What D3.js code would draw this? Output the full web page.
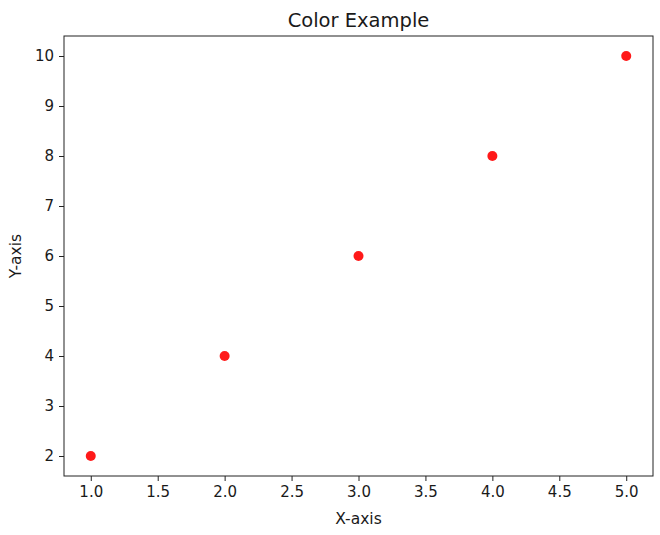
<!DOCTYPE html>
<html>
<head>
<meta charset="utf-8">
<script src="https://cdn.jsdelivr.net/npm/d3@7"></script>
<style>
  body { margin: 0; background: #fff; }
  text { font-family: "DejaVu Sans", sans-serif; fill: #1a1a1a; }
</style>
</head>
<body>
<div id="chart"></div>
<script>
var xValues = [1, 2, 3, 4, 5];
var yValues = [2, 4, 6, 8, 10];
var xTicks = [1.0, 1.5, 2.0, 2.5, 3.0, 3.5, 4.0, 4.5, 5.0];
var yTicks = [2, 3, 4, 5, 6, 7, 8, 9, 10];

var svgWidth = 660, svgHeight = 535;
var margin = { top: 36, right: 7, bottom: 59, left: 64 };
var width = svgWidth - margin.left - margin.right;
var height = svgHeight - margin.top - margin.bottom;

var svg = d3.select("#chart").append("svg")
    .attr("width", svgWidth)
    .attr("height", svgHeight);

var g = svg.append("g")
    .attr("transform", `translate(${margin.left}, ${margin.top})`);

var x = d3.scaleLinear().domain([0.8, 5.2]).range([0, width]);
var y = d3.scaleLinear().domain([1.6, 10.4]).range([height, 0]);

var xAxis = d3.axisBottom(x).tickValues(xTicks).tickFormat(d3.format(".1f")).tickSize(5).tickPadding(5);
var yAxis = d3.axisLeft(y).tickValues(yTicks).tickFormat(d3.format("d")).tickSize(5).tickPadding(5);

var gx = g.append("g")
    .attr("transform", `translate(0, ${height})`)
    .call(xAxis);
var gy = g.append("g").call(yAxis);

[gx, gy].forEach(function (a) {
    a.select(".domain").remove();
    a.selectAll("line").attr("stroke", "#222").attr("stroke-width", 1);
    a.selectAll("text").attr("font-size", "15px").attr("fill", "#222");
});

// frame
g.append("rect")
    .attr("x", 0).attr("y", 0)
    .attr("width", width).attr("height", height)
    .attr("fill", "none")
    .attr("stroke", "#222")
    .attr("stroke-width", 1);

g.selectAll("circle")
    .data(xValues)
    .enter()
    .append("circle")
    .attr("cx", (d, i) => x(d))
    .attr("cy", (d, i) => y(yValues[i]))
    .attr("r", 5)
    .attr("fill", "#ff0000")
    .attr("fill-opacity", 0.9);

svg.append("text")
    .attr("x", margin.left + width / 2)
    .attr("y", 27)
    .attr("text-anchor", "middle")
    .attr("font-size", "19.5px")
    .text("Color Example");

svg.append("text")
    .attr("x", margin.left + width / 2)
    .attr("y", 524)
    .attr("text-anchor", "middle")
    .attr("font-size", "15.5px")
    .text("X-axis");

svg.append("text")
    .attr("transform", `translate(21, ${margin.top + height / 2}) rotate(-90)`)
    .attr("text-anchor", "middle")
    .attr("font-size", "15.5px")
    .text("Y-axis");
</script>
</body>
</html>
